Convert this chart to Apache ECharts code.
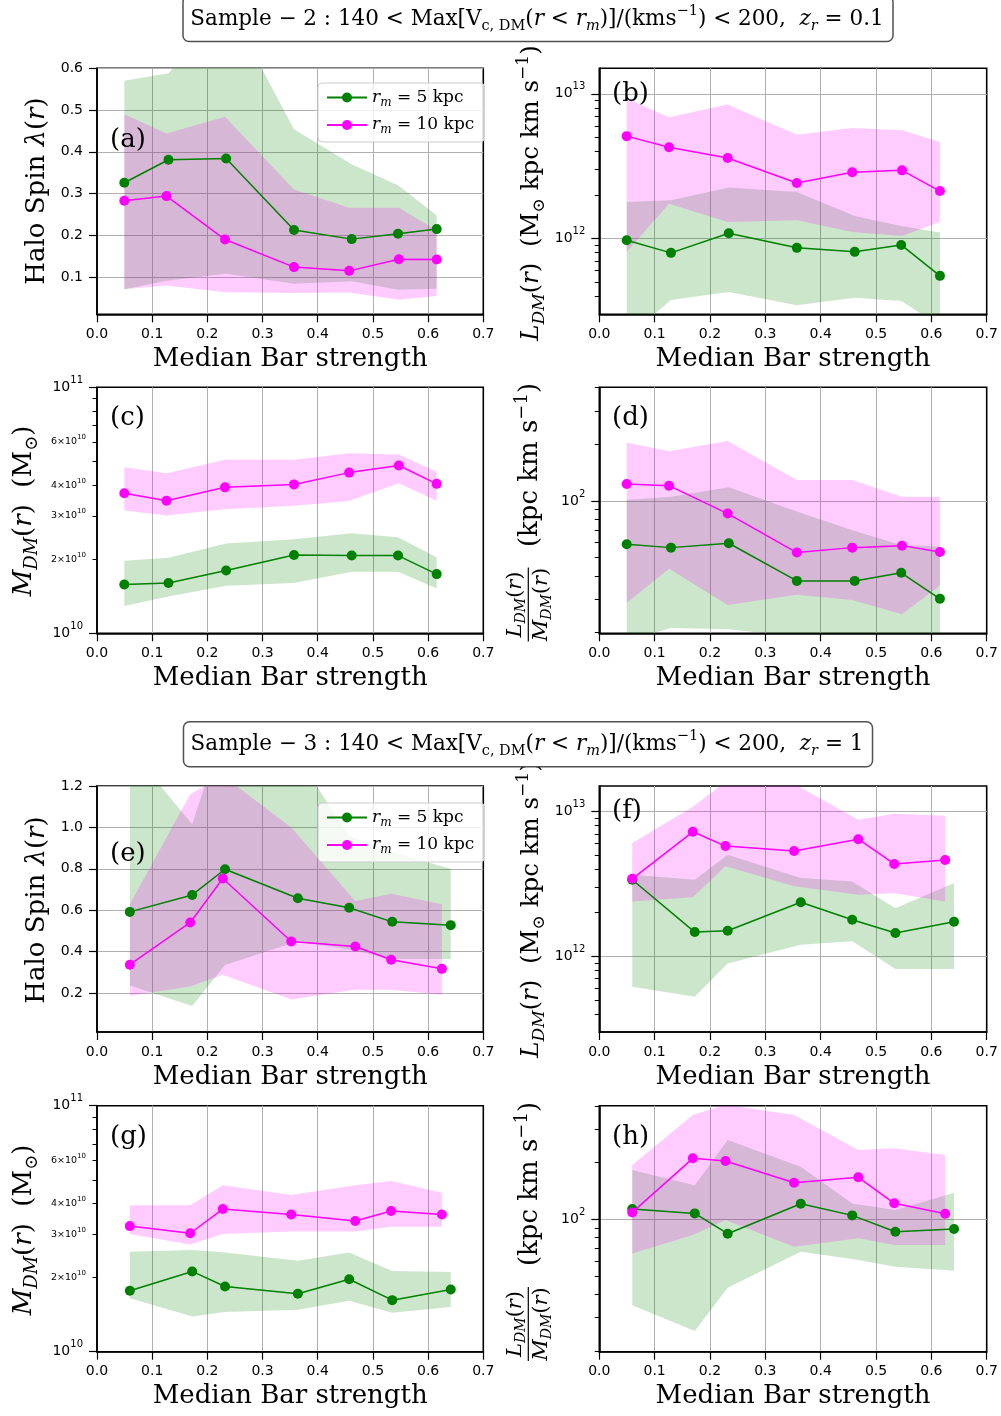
<!DOCTYPE html>
<html><head><meta charset="utf-8">
<script src="https://cdn.jsdelivr.net/npm/echarts@6/dist/echarts.min.js"></script>
<style>html,body{margin:0;padding:0;background:#fff}#c{width:1001px;height:1416px}</style>
</head><body><div id="c"></div><script>
// ---------------- data ----------------
const xTicks = [0, 0.1, 0.2, 0.3, 0.4, 0.5, 0.6, 0.7];
// bin positions (median bar strength)
const s2X5  = [0.0495, 0.1295, 0.234, 0.357, 0.4615, 0.5455, 0.6155];
const s2X10 = [0.0495, 0.126, 0.232, 0.357, 0.457, 0.547, 0.6155];
const s3X5  = [0.0595, 0.1725, 0.232, 0.364, 0.457, 0.535, 0.641];
const s3X10 = [0.0595, 0.169, 0.228, 0.352, 0.468, 0.533, 0.625];

// (a) halo spin, sample 2
const aY5   = [0.326, 0.381, 0.384, 0.213, 0.191, 0.204, 0.215];
const aLo5  = [0.071, 0.092, 0.108, 0.084, 0.090, 0.070, 0.072];
const aHi5  = [0.570, 0.588, 0.760, 0.454, 0.370, 0.320, 0.248];
const aY10  = [0.283, 0.294, 0.190, 0.124, 0.115, 0.143, 0.142];
const aLo10 = [0.071, 0.080, 0.064, 0.062, 0.063, 0.046, 0.055];
const aHi10 = [0.490, 0.444, 0.484, 0.310, 0.266, 0.266, 0.212];
// (b) L_DM, sample 2
const bY5   = [9.75e11, 7.97e11, 1.09e12, 8.63e11, 8.1e11, 9.04e11, 5.53e11];
const bLo5  = [2.06e11, 3.76e11, 4.28e11, 3.47e11, 3.9e11, 3.7e11, 2.5e11];
const bHi5  = [1.79e12, 1.84e12, 2.25e12, 2.1e12, 1.43e12, 1.22e12, 1.10e12];
const bY10  = [5.1e12, 4.27e12, 3.6e12, 2.42e12, 2.87e12, 2.96e12, 2.13e12];
const bLo10 = [8.1e11, 1.74e12, 1.30e12, 1.34e12, 1.11e12, 1.04e12, 1.30e12];
const bHi10 = [9.24e12, 6.9e12, 8.44e12, 5.21e12, 5.8e12, 5.59e12, 4.64e12];
// (c) M_DM, sample 2
const cY5   = [1.58e10, 1.60e10, 1.80e10, 2.08e10, 2.07e10, 2.07e10, 1.74e10];
const cLo5  = [1.29e10, 1.41e10, 1.56e10, 1.60e10, 1.78e10, 1.78e10, 1.52e10];
const cHi5  = [1.97e10, 2.03e10, 2.32e10, 2.41e10, 2.55e10, 2.46e10, 2.04e10];
const cY10  = [3.71e10, 3.46e10, 3.92e10, 4.03e10, 4.50e10, 4.81e10, 4.05e10];
const cLo10 = [3.16e10, 3.01e10, 3.19e10, 3.30e10, 3.45e10, 4.07e10, 3.46e10];
const cHi10 = [4.73e10, 4.47e10, 5.07e10, 5.07e10, 5.40e10, 5.33e10, 4.54e10];
// (d) L/M, sample 2
const dY5   = [58.9, 56.5, 59.6, 37.6, 37.6, 41.5, 30.2];
const dLo5  = [18, 21.1, 20.8, 19.0, 18, 18, 17];
const dHi5  = [101.2, 105.4, 118.2, 87.8, 69.3, 58.3, 57.2];
const dY10  = [123.1, 120.6, 85.7, 53.2, 56.5, 57.9, 53.6];
const dLo10 = [28.7, 43.6, 28.0, 31.7, 29.8, 25.0, 35.5];
const dHi10 = [204.8, 184, 208.5, 129.3, 129.3, 105.4, 105.4];
// (e) halo spin, sample 3
const eY5   = [0.592, 0.674, 0.798, 0.658, 0.612, 0.544, 0.528];
const eLo5  = [0.237, 0.138, 0.335, 0.45, 0.41, 0.364, 0.364];
const eHi5  = [1.38, 1.015, 1.5, 1.337, 0.96, 0.88, 0.80];
const eY10  = [0.337, 0.541, 0.753, 0.449, 0.425, 0.361, 0.317];
const eLo10 = [0.187, 0.232, 0.288, 0.169, 0.216, 0.216, 0.192];
const eHi10 = [0.629, 1.16, 1.25, 1.0, 0.645, 0.680, 0.629];
// (f) L_DM, sample 3
const fY5   = [3.38e12, 1.47e12, 1.50e12, 2.36e12, 1.79e12, 1.45e12, 1.73e12];
const fLo5  = [6.15e11, 5.25e11, 8.9e11, 1.2e12, 1.27e12, 8.18e11, 8.18e11];
const fHi5  = [3.66e12, 3.38e12, 5.02e12, 3.47e12, 3.29e12, 2.15e12, 3.21e12];
const fY10  = [3.43e12, 7.24e12, 5.77e12, 5.33e12, 6.44e12, 4.34e12, 4.62e12];
const fLo10 = [2.39e12, 2.56e12, 4.18e12, 3.04e12, 2.66e12, 2.73e12, 2.39e12];
const fHi10 = [6.05e12, 1.08e13, 1.6e13, 1.55e13, 8.77e12, 9.64e12, 9.33e12];
// (g) M_DM, sample 3
const gY5   = [1.77e10, 2.12e10, 1.84e10, 1.72e10, 1.97e10, 1.62e10, 1.79e10];
const gLo5  = [1.65e10, 1.39e10, 1.45e10, 1.48e10, 1.61e10, 1.44e10, 1.52e10];
const gHi5  = [2.55e10, 2.59e10, 2.53e10, 2.34e10, 2.53e10, 2.13e10, 2.11e10];
const gY10  = [3.24e10, 3.03e10, 3.80e10, 3.61e10, 3.40e10, 3.73e10, 3.61e10];
const gLo10 = [3.01e10, 2.73e10, 3.01e10, 3.08e10, 3.08e10, 3.22e10, 3.22e10];
const gHi10 = [3.94e10, 3.94e10, 4.75e10, 4.33e10, 4.75e10, 4.94e10, 4.43e10];
// (h) L/M, sample 3
const hY5   = [113.5, 107.6, 83.9, 121.1, 105.0, 86.0, 88.8];
const hLo5  = [35.0, 25.5, 43.3, 67.3, 61.5, 56.0, 53.3];
const hHi5  = [183, 152, 264, 190.6, 121.6, 112.1, 138.6];
const hY10  = [108.9, 211.1, 204.3, 156.6, 167.3, 121.7, 107.2];
const hLo10 = [65.9, 82.6, 99.2, 71.5, 79.3, 73.0, 73.0];
const hHi10 = [194.5, 359, 407, 359, 234, 239, 220];

// axis ranges and tick values
const spinRange2 = [0.011, 0.6];
const spinRange3 = [0.012, 1.2];
const spinTicks2 = [0.1, 0.2, 0.3, 0.4, 0.5, 0.6];
const spinTicks3 = [0.2, 0.4, 0.6, 0.8, 1.0, 1.2];
const LRange = [3.0e11, 1.5e13];
const LMajor = [1e12, 1e13];
const LMinor = [4e11, 5e11, 6e11, 7e11, 8e11, 9e11, 2e12, 3e12, 4e12, 5e12, 6e12, 7e12, 8e12, 9e12];
const MRange = [1e10, 1e11];
const MMajor = [1e10, 1e11];
const MMinor = [2e10, 3e10, 4e10, 5e10, 6e10, 7e10, 8e10, 9e10];
const MMinorLab = [2e10, 3e10, 4e10, 6e10];
const RRange = [19.8, 402];
const RMajor = [100];
const RMinor = [20, 30, 40, 50, 60, 70, 80, 90, 200, 300, 400];

// ---------------- styling / layout ----------------
const SERIF = "'DejaVu Serif', serif";
const SANS = "'DejaVu Sans', sans-serif";
const GREEN = '#008000', MAG = '#ff00ff';
const GREEN_FILL = 'rgba(0,128,0,0.2)', MAG_FILL = 'rgba(255,0,255,0.2)';
const N5 = 'rm5', N10 = 'rm10';
const colLeft = [97, 599.3], colWidth = [386.3, 387.4];
const rowTop = [68.3, 387.3, 786, 1105.7], plotH = 246;

const panels = [
  {tag:'(a)', col:0, row:0, kind:'lin', range:spinRange2, ticks:spinTicks2, x5:s2X5, y5:aY5, lo5:aLo5, hi5:aHi5, x10:s2X10, y10:aY10, lo10:aLo10, hi10:aHi10},
  {tag:'(b)', col:1, row:0, kind:'log', range:LRange, major:LMajor, minor:LMinor, minorLab:[], x5:s2X5, y5:bY5, lo5:bLo5, hi5:bHi5, x10:s2X10, y10:bY10, lo10:bLo10, hi10:bHi10},
  {tag:'(c)', col:0, row:1, kind:'log', range:MRange, major:MMajor, minor:MMinor, minorLab:MMinorLab, x5:s2X5, y5:cY5, lo5:cLo5, hi5:cHi5, x10:s2X10, y10:cY10, lo10:cLo10, hi10:cHi10},
  {tag:'(d)', col:1, row:1, kind:'log', range:RRange, major:RMajor, minor:RMinor, minorLab:[], x5:s2X5, y5:dY5, lo5:dLo5, hi5:dHi5, x10:s2X10, y10:dY10, lo10:dLo10, hi10:dHi10},
  {tag:'(e)', col:0, row:2, kind:'lin', range:spinRange3, ticks:spinTicks3, x5:s3X5, y5:eY5, lo5:eLo5, hi5:eHi5, x10:s3X10, y10:eY10, lo10:eLo10, hi10:eHi10},
  {tag:'(f)', col:1, row:2, kind:'log', range:LRange, major:LMajor, minor:LMinor, minorLab:[], x5:s3X5, y5:fY5, lo5:fLo5, hi5:fHi5, x10:s3X10, y10:fY10, lo10:fLo10, hi10:fHi10},
  {tag:'(g)', col:0, row:3, kind:'log', range:MRange, major:MMajor, minor:MMinor, minorLab:MMinorLab, x5:s3X5, y5:gY5, lo5:gLo5, hi5:gHi5, x10:s3X10, y10:gY10, lo10:gLo10, hi10:gHi10},
  {tag:'(h)', col:1, row:3, kind:'log', range:RRange, major:RMajor, minor:RMinor, minorLab:[], x5:s3X5, y5:hY5, lo5:hLo5, hi5:hHi5, x10:s3X10, y10:hY10, lo10:hLo10, hi10:hHi10}
];
const tagY = [140, 94, 418, 418, 854, 811, 1137, 1137];

const grids = [], xAxes = [], yAxes = [], series = [], graphics = [];
const tickLine = {color:'#000', width:1.2};
const gridLine = {color:'#b0b0b0', width:1};

function bandSeries(gi, yi, xs, lo, hi, fill) {
  return {
    type:'custom', xAxisIndex:gi, yAxisIndex:yi, clip:true, silent:true, z:1,
    data: xs.map((x, k) => [x, lo[k], hi[k]]),
    encode:{x:0, y:[1, 2]},
    renderItem: function (params, api) {
      if (params.dataIndex !== 0) return null;
      const up = xs.map((x, k) => api.coord([x, hi[k]]));
      const dn = xs.map((x, k) => api.coord([x, lo[k]])).reverse();
      return {type:'polygon', shape:{points: up.concat(dn)}, style:{fill: fill}};
    }
  };
}
function lineSeries(gi, yi, name, xs, ys, color, z) {
  return {
    type:'line', name:name, xAxisIndex:gi, yAxisIndex:yi, z:z, clip:false,
    data: xs.map((x, k) => [x, ys[k]]),
    symbol:'circle', symbolSize:10, showSymbol:true,
    itemStyle:{color:color}, lineStyle:{color:color, width:1.5}, emphasis:{disabled:true}
  };
}
const log10 = v => Math.log10(v);

panels.forEach((p, i) => {
  grids.push({left:colLeft[p.col], top:rowTop[p.row], width:colWidth[p.col], height:plotH,
    show:true, borderColor:'#000', borderWidth:1.6, containLabel:false, outerBoundsMode:'none'});
  xAxes.push({gridIndex:i, type:'value', min:xTicks[0], max:xTicks[xTicks.length-1], interval:0.1, position:'bottom',
    axisLine:{show:true, onZero:false, lineStyle:{color:'#000', width:1.6}},
    axisTick:{show:true, length:8, lineStyle:tickLine},
    axisLabel:{margin:13, fontFamily:SANS, fontSize:14, color:'#000', formatter: v => v.toFixed(1)},
    splitLine:{show:true, showMinLine:false, showMaxLine:false, lineStyle:gridLine},
    name:'Median Bar strength', nameLocation:'middle', nameGap:32,
    nameTextStyle:{fontFamily:SERIF, fontSize:26, color:'#000'}
  });
  const yi = yAxes.length;
  if (p.kind === 'lin') {
    yAxes.push({gridIndex:i, type:'value', min:p.range[0], max:p.range[1], position:'left',
      axisLine:{show:true, onZero:false, lineStyle:{color:'#000', width:1.6}},
      axisTick:{show:true, length:8, lineStyle:tickLine, customValues:p.ticks},
      axisLabel:{margin:14, fontFamily:SANS, fontSize:14, color:'#000', customValues:p.ticks, formatter: v => v.toFixed(1)},
      splitLine:{show:true, lineStyle:gridLine}
    });
  } else {
    yAxes.push({gridIndex:i, type:'log', logBase:10, min:p.range[0], max:p.range[1], position:'left',
      axisLine:{show:true, onZero:false, lineStyle:{color:'#000', width:1.6}},
      axisTick:{show:false}, axisLabel:{show:false},
      splitLine:{show:true, showMinLine:false, showMaxLine:false, lineStyle:gridLine}
    });
    const lr = p.range.map(log10);
    yAxes.push({gridIndex:i, type:'value', min:lr[0], max:lr[1], position:'left', offset:0,
      axisLine:{show:false, onZero:false}, splitLine:{show:false},
      axisTick:{show:true, length:8, lineStyle:tickLine, customValues:p.major.map(log10)},
      axisLabel:{margin:14, customValues:p.major.map(log10), color:'#000',
        formatter: v => '{b|10}{s|' + Math.round(v) + '}',
        rich:{b:{fontFamily:SANS, fontSize:14, lineHeight:24, color:'#000'},
              s:{fontFamily:SANS, fontSize:10, lineHeight:14, verticalAlign:'top', color:'#000'}}}
    });
    yAxes.push({gridIndex:i, type:'value', min:lr[0], max:lr[1], position:'left', offset:0,
      axisLine:{show:false, onZero:false}, splitLine:{show:false},
      axisTick:{show:true, length:4.5, lineStyle:{color:'#000', width:1}, customValues:p.minor.map(log10)},
      axisLabel:{show:p.minorLab.length > 0, margin:11, customValues:p.minorLab.map(log10), color:'#000',
        formatter: v => { const e = Math.floor(v + 1e-9); return '{b|' + Math.round(Math.pow(10, v - e)) + '×10}{s|' + e + '}'; },
        rich:{b:{fontFamily:SANS, fontSize:9.5, lineHeight:16, color:'#000'},
              s:{fontFamily:SANS, fontSize:7, lineHeight:10, verticalAlign:'top', color:'#000'}}}
    });
  }
  series.push(bandSeries(i, yi, p.x5, p.lo5, p.hi5, GREEN_FILL));
  series.push(bandSeries(i, yi, p.x10, p.lo10, p.hi10, MAG_FILL));
  series.push(lineSeries(i, yi, N5, p.x5, p.y5, GREEN, 3));
  series.push(lineSeries(i, yi, N10, p.x10, p.y10, MAG, 4));
  graphics.push({type:'text', x: p.col ? 612 : 110, y: tagY[i], z:20,
    style:{text:p.tag, fontFamily:SERIF, fontSize:26, fill:'#000', align:'left', verticalAlign:'middle'}});
});

// ---- rich math text styles ----
function mathRich(sz, lh) {
  return {
    n:{fontFamily:SERIF, fontSize:sz, lineHeight:lh, color:'#000'},
    i:{fontFamily:SERIF, fontSize:sz, fontStyle:'italic', lineHeight:lh, color:'#000'},
    sb:{fontFamily:SERIF, fontSize:Math.round(sz*0.68), fontStyle:'italic', lineHeight:Math.round(sz*0.75), verticalAlign:'bottom', color:'#000'},
    su:{fontFamily:SERIF, fontSize:Math.round(sz*0.68), lineHeight:Math.round(sz*0.75), verticalAlign:'bottom', color:'#000'},
    sp:{fontFamily:SERIF, fontSize:Math.round(sz*0.68), lineHeight:Math.round(sz*0.68), verticalAlign:'top', color:'#000'}
  };
}
const R26 = mathRich(26, 34);
const R24 = mathRich(24.5, 33);
const R21 = mathRich(21, 26);
const spinTitle = '{n|Halo Spin }{i|λ}{n|(}{i|r}{n|)}';
const LTitle = '{i|L}{sb|DM}{n|(}{i|r}{n|)  (M}{su|⊙}{n| kpc km s}{sp|−1}{n|)}';
const MTitle = '{i|M}{sb|DM}{n|(}{i|r}{n|)  (M}{su|⊙}{n|)}';
const unitTitle = '{n|(kpc km s}{sp|−1}{n|)}';
const numTitle = '{i|L}{sb|DM}{n|(}{i|r}{n|)}';
const denTitle = '{i|M}{sb|DM}{n|(}{i|r}{n|)}';
function vtext(x, y, text, rich) {
  return {type:'text', x:x, y:y, rotation:Math.PI/2, z:20,
    style:{text:text, rich:rich, align:'center', verticalAlign:'middle', fill:'#000'}};
}
function fraction(x, y) {
  return {type:'group', x:x, y:y, rotation:Math.PI/2, z:20, children:[
    {type:'text', x:0, y:-13, style:{text:numTitle, rich:R21, align:'center', verticalAlign:'middle', fill:'#000'}},
    {type:'line', shape:{x1:-37, y1:0, x2:37, y2:0}, style:{stroke:'#000', lineWidth:1.2}},
    {type:'text', x:0, y:13, style:{text:denTitle, rich:R21, align:'center', verticalAlign:'middle', fill:'#000'}}
  ]};
}
graphics.push(vtext(37, 191, spinTitle, R26));
graphics.push(vtext(532, 193, LTitle, R24));
graphics.push(vtext(24, 511, MTitle, R26));
graphics.push(vtext(530, 465, unitTitle, R26));
graphics.push(fraction(528.3, 604.5));
graphics.push(vtext(37, 910, spinTitle, R26));
graphics.push(vtext(532, 910, LTitle, R24));
graphics.push(vtext(24, 1230, MTitle, R26));
graphics.push(vtext(530, 1184, unitTitle, R26));
graphics.push(fraction(528.3, 1324));

// ---- sample title boxes ----
const RT = {
  n:{fontFamily:SERIF, fontSize:21.5, lineHeight:30, color:'#000'},
  i:{fontFamily:SERIF, fontSize:21.5, fontStyle:'italic', lineHeight:30, color:'#000'},
  sb:{fontFamily:SERIF, fontSize:14.5, lineHeight:16, verticalAlign:'bottom', color:'#000'},
  si:{fontFamily:SERIF, fontSize:14.5, fontStyle:'italic', lineHeight:16, verticalAlign:'bottom', color:'#000'},
  sp:{fontFamily:SERIF, fontSize:14.5, lineHeight:14, verticalAlign:'top', color:'#000'}
};
function sampleTitle(k, z) {
  return '{n|Sample − ' + k + ' : 140 < Max[V}{sb|c, DM}{n|(}{i|r}{n| < }{i|r}{si|m}{n|)]/(kms}{sp|−1}{n|) < 200,  }{i|z}{si|r}{n| = ' + z + '}';
}
graphics.push({type:'rect', z:30, shape:{x:183, y:-4, width:710, height:45.5, r:6}, style:{fill:'#fff', stroke:'#505050', lineWidth:1.5}});
graphics.push({type:'text', z:31, x:537, y:19, style:{text:sampleTitle(2, '0.1'), rich:RT, align:'center', verticalAlign:'middle'}});
graphics.push({type:'rect', z:30, shape:{x:183.5, y:721.7, width:689, height:45, r:6}, style:{fill:'#fff', stroke:'#505050', lineWidth:1.5}});
graphics.push({type:'text', z:31, x:527, y:744, style:{text:sampleTitle(3, '1'), rich:RT, align:'center', verticalAlign:'middle'}});

// ---- legends ----
const legRich = {
  t:{fontFamily:SERIF, fontSize:17, lineHeight:22, color:'#000'},
  i:{fontFamily:SERIF, fontSize:17, fontStyle:'italic', lineHeight:22, color:'#000'},
  sb:{fontFamily:SERIF, fontSize:12, fontStyle:'italic', lineHeight:12, verticalAlign:'bottom', color:'#000'}
};
function legend(top) {
  return {data:[N5, N10], orient:'vertical', left:318, top:top, padding:[6, 10, 6, 8], itemGap:8,
    itemWidth:40, itemHeight:12.5, selectedMode:false, backgroundColor:'rgba(255,255,255,0.8)',
    borderColor:'#cccccc', borderWidth:1, borderRadius:4, z:15,
    formatter: n => '{i|r}{sb|m}{t| = ' + (n === N5 ? '5' : '10') + ' kpc}',
    textStyle:{rich:legRich}};
}

const chart = echarts.init(document.getElementById('c'), null, {renderer:'canvas'});
chart.setOption({
  animation:false, backgroundColor:'#fff',
  grid:grids, xAxis:xAxes, yAxis:yAxes, series:series,
  legend:[legend(83), legend(803)],
  graphic:{elements:graphics}
});
</script></body></html>
